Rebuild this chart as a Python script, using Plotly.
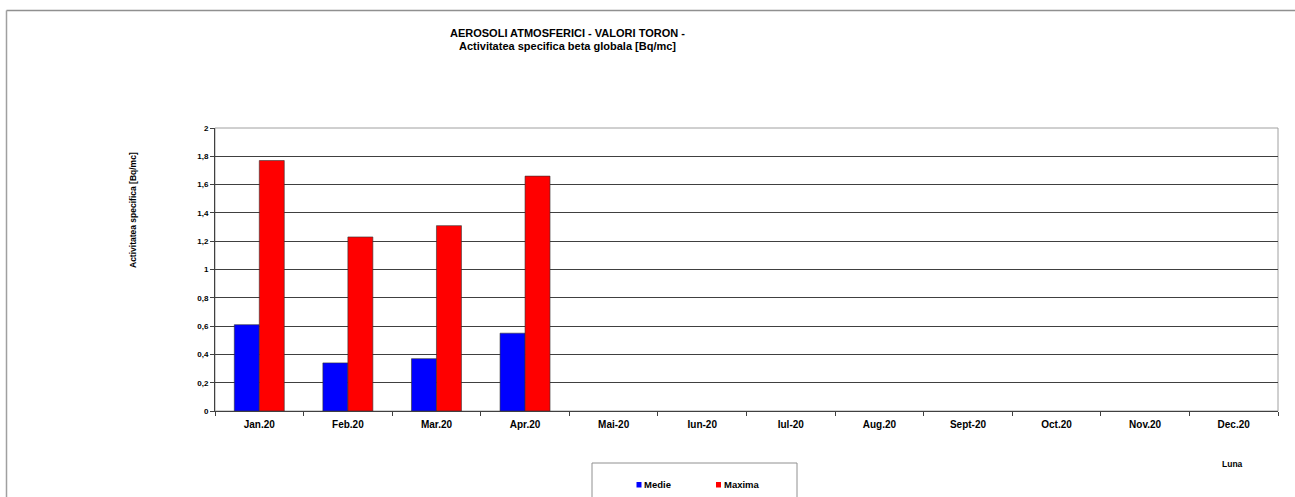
import plotly.graph_objects as go

luni = ["Jan.20", "Feb.20", "Mar.20", "Apr.20", "Mai-20", "Iun-20", "Iul-20",
        "Aug.20", "Sept-20", "Oct.20", "Nov.20", "Dec.20"]
medie = [0.61, 0.34, 0.37, 0.55, None, None, None, None, None, None, None, None]
maxima = [1.77, 1.23, 1.31, 1.66, None, None, None, None, None, None, None, None]
serii = ["Medie", "Maxima"]

W, H = 1295, 497
L, R, T, B = 215, 1278, 128, 411


def px(x):
    return (x - L) / (R - L)


def py(y):
    return (B - y) / (B - T)


font = "Liberation Sans, Arial, sans-serif"
culori = {"Medie": "#0000ff", "Maxima": "#ff0000"}

fig = go.Figure()
for nume, vals in zip(serii, [medie, maxima]):
    fig.add_trace(go.Bar(x=luni, y=vals, name=nume, marker_color=culori[nume],
                         marker_line=dict(color="#303030", width=0.6)))

fig.update_layout(
    width=W, height=H,
    margin=dict(l=L, r=W - R, t=T, b=H - B),
    paper_bgcolor="white", plot_bgcolor="white",
    barmode="group", bargap=0.436, bargroupgap=0,
    separators=",.",
    font=dict(family=font, color="black"),
    showlegend=False,
)
fig.update_xaxes(showline=True, linecolor="#404040", linewidth=1, ticks="outside",
                 tickson="boundaries", ticklen=4, tickcolor="#404040", ticklabelstandoff=4,
                 tickfont=dict(size=10, family=font, weight="bold"), showgrid=False)
fig.update_yaxes(range=[0, 2], dtick=0.2, showline=True, linecolor="#404040", linewidth=1,
                 ticks="outside", ticklen=4, tickcolor="#404040", gridcolor="#404040",
                 gridwidth=1, tickfont=dict(size=8, family=font, weight="bold"), zeroline=False)

# plot area frame and outer border (top + left only visible)
fig.add_shape(type="rect", xref="paper", yref="paper", x0=0, x1=1, y0=0, y1=1,
              line=dict(color="#a0a0a0", width=1), layer="below")
fig.add_shape(type="line", xref="paper", yref="paper", x0=px(6.5), x1=px(W + 5),
              y0=py(10.5), y1=py(10.5), line=dict(color="#909090", width=1.5))
fig.add_shape(type="line", xref="paper", yref="paper", x0=px(6.5), x1=px(6.5),
              y0=py(10.5), y1=py(H + 5), line=dict(color="#a0a0a0", width=1.5))


def text(x, y, s, size, **kw):
    fig.add_annotation(x=px(x), y=py(y), xref="paper", yref="paper", showarrow=False,
                       text="<b>%s</b>" % s, font=dict(size=size, family=font),
                       xanchor=kw.pop("xanchor", "center"), yanchor="middle", **kw)


# legend drawn by hand (box, small squares, labels)
fig.add_shape(type="rect", xref="paper", yref="paper", x0=px(592), x1=px(797),
              y0=py(H + 5), y1=py(463), line=dict(color="#909090", width=1))
for nume, x0 in zip(serii, [636.5, 716]):
    fig.add_shape(type="rect", xref="paper", yref="paper", x0=px(x0), x1=px(x0 + 5),
                  y0=py(487.5), y1=py(482), fillcolor=culori[nume],
                  line=dict(color=culori[nume], width=0))
    text(x0 + 5.5, 484.5, nume, 9.5, xanchor="left")

text(567, 33, "AEROSOLI ATMOSFERICI - VALORI TORON -", 11)
text(567, 46, "Activitatea specifica beta globala [Bq/mc]", 11)
text(133, 210, "Activitatea specifica [Bq/mc]", 8.5, textangle=-90)
text(1232, 464, "Luna", 8.5)

fig.write_html("out.html", config={"displayModeBar": False},
               post_script="document.body.style.margin='0';")
